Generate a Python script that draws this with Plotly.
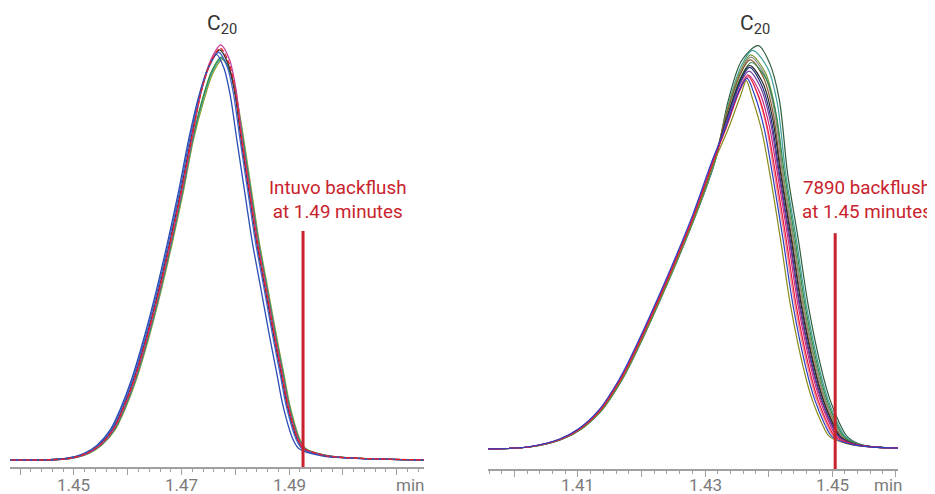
import plotly.graph_objects as go

# ---------------- DATA ----------------
# Left panel (Intuvo): intensity levels (relative, apex ~100) shared by the flanks
L_LEVELS_RISE = [0, 0.3, 1.6, 3.6, 7.4, 12.3, 19.5, 29.5, 41.0, 53.3, 65.4, 77.5]
L_LEVELS_FALL = [77.5, 65.4, 53.3, 41.2, 29.1, 21.1, 13.0, 4.8, 2.8, 1.0, 0.4, 0]

# per-run retention times (min) and apex-region intensities
L_BLUE1_T = [1.4370, 1.4481, 1.4519, 1.4543, 1.4568, 1.4586, 1.4607, 1.4630, 1.4653, 1.4675, 1.4695, 1.4713, 1.4732, 1.4749,
             1.4765,
             1.4779, 1.4791, 1.4803, 1.4817, 1.4831, 1.4848, 1.4865, 1.4877, 1.4889, 1.4908, 1.4918, 1.4961, 1.5023, 1.5160]
L_BLUE1_APEX = [88.1, 94.9, 98.3, 94.9, 88.1]

L_BLUE2_T = [1.4370, 1.4483, 1.4521, 1.4545, 1.4570, 1.4588, 1.4609, 1.4632, 1.4655, 1.4677, 1.4697, 1.4715, 1.4734, 1.4751,
             1.4769,
             1.4785, 1.4797, 1.4809, 1.4823, 1.4837, 1.4854, 1.4871, 1.4883, 1.4895, 1.4914, 1.4924, 1.4967, 1.5029, 1.5160]
L_BLUE2_APEX = [88.5, 95.3, 98.8, 95.3, 88.5]

L_BLACK_T = [1.4370, 1.4485, 1.4523, 1.4547, 1.4572, 1.4590, 1.4611, 1.4634, 1.4657, 1.4679, 1.4699, 1.4717, 1.4736, 1.4753,
             1.4771,
             1.4787, 1.4799, 1.4811, 1.4825, 1.4839, 1.4856, 1.4873, 1.4885, 1.4897, 1.4916, 1.4926, 1.4969, 1.5031, 1.5160]
L_BLACK_APEX = [89.1, 95.9, 99.4, 95.9, 89.1]

L_RED_T = [1.4370, 1.4486, 1.4524, 1.4548, 1.4573, 1.4591, 1.4612, 1.4635, 1.4658, 1.4680, 1.4700, 1.4718, 1.4737, 1.4754,
           1.4772,
           1.4788, 1.4800, 1.4812, 1.4826, 1.4840, 1.4857, 1.4874, 1.4886, 1.4898, 1.4917, 1.4927, 1.4970, 1.5032, 1.5160]
L_RED_APEX = [89.4, 96.3, 99.8, 96.3, 89.4]

L_MAGENTA_T = [1.4370, 1.4487, 1.4525, 1.4549, 1.4574, 1.4592, 1.4613, 1.4636, 1.4659, 1.4681, 1.4701, 1.4719, 1.4738, 1.4755,
               1.4773,
               1.4789, 1.4801, 1.4813, 1.4827, 1.4841, 1.4858, 1.4875, 1.4887, 1.4899, 1.4918, 1.4928, 1.4971, 1.5033, 1.5160]
L_MAGENTA_APEX = [90.1, 97.1, 100.6, 97.1, 90.1]

L_GREEN_T = [1.4370, 1.4488, 1.4526, 1.4550, 1.4575, 1.4593, 1.4614, 1.4637, 1.4660, 1.4682, 1.4702, 1.4720, 1.4739, 1.4756,
             1.4774,
             1.4790, 1.4802, 1.4814, 1.4828, 1.4842, 1.4859, 1.4876, 1.4888, 1.4900, 1.4919, 1.4929, 1.4972, 1.5034, 1.5160]
L_GREEN_APEX = [87.5, 94.2, 97.6, 94.2, 87.5]

L_TEAL_T = [1.4370, 1.4489, 1.4527, 1.4551, 1.4576, 1.4594, 1.4615, 1.4638, 1.4661, 1.4683, 1.4703, 1.4721, 1.4740, 1.4757,
            1.4775,
            1.4791, 1.4803, 1.4815, 1.4829, 1.4843, 1.4860, 1.4877, 1.4889, 1.4901, 1.4920, 1.4930, 1.4973, 1.5035, 1.5160]
L_TEAL_APEX = [87.2, 93.9, 97.3, 93.9, 87.2]

L_OLIVE_T = [1.4370, 1.4490, 1.4528, 1.4552, 1.4577, 1.4595, 1.4616, 1.4639, 1.4662, 1.4684, 1.4704, 1.4722, 1.4741, 1.4758,
             1.4776,
             1.4792, 1.4804, 1.4816, 1.4830, 1.4844, 1.4861, 1.4878, 1.4890, 1.4902, 1.4921, 1.4931, 1.4974, 1.5036, 1.5160]
L_OLIVE_APEX = [86.9, 93.6, 97.0, 93.6, 86.9]

L_BACKFLUSH = 1.4926
L_MAJOR_TICKS = [1.44, 1.45, 1.46, 1.47, 1.48, 1.49, 1.50, 1.51]
L_LABEL_TICKS = [1.45, 1.47, 1.49]
L_LABEL_TEXT = ["1.45", "1.47", "1.49"]

# Right panel (7890)
R_LEVELS_RISE = [0, 0.6, 2.6, 5.4, 10.4, 18.3, 23.4, 40.6, 62.0, 76.6]
R_LEVELS_FALL = [73.3, 55.6, 37.8, 20.1, 13.0, 6.8, 3.3, 1.1, 0.2]

R_OLIVE_T = [1.3950, 1.4026, 1.4074, 1.4105, 1.4137, 1.4168, 1.4184, 1.4231, 1.4284, 1.4315, 1.4336, 1.4357,
             1.4365,
             1.4374, 1.4389, 1.4402, 1.4419, 1.4435, 1.4457, 1.4469, 1.4484, 1.4496, 1.4532, 1.4615]
R_OLIVE_APEX = [84.9, 94.5, 98.0, 93.6, 84.9]

R_BLUE_T = [1.3950, 1.4022, 1.4070, 1.4101, 1.4133, 1.4164, 1.4180, 1.4227, 1.4280, 1.4311, 1.4332, 1.4353,
            1.4366,
            1.4378, 1.4393, 1.4406, 1.4423, 1.4439, 1.4461, 1.4473, 1.4488, 1.4500, 1.4534, 1.4615]
R_BLUE_APEX = [85.4, 95.1, 98.6, 94.2, 85.4]

R_PINK_T = [1.3950, 1.4024, 1.4072, 1.4103, 1.4135, 1.4166, 1.4182, 1.4229, 1.4282, 1.4313, 1.4334, 1.4355,
            1.4367,
            1.4381, 1.4396, 1.4409, 1.4426, 1.4442, 1.4464, 1.4476, 1.4491, 1.4503, 1.4536, 1.4615]
R_PINK_APEX = [86.3, 96.0, 99.6, 95.1, 86.3]

R_RED_T = [1.3950, 1.4024, 1.4072, 1.4103, 1.4135, 1.4166, 1.4182, 1.4229, 1.4282, 1.4313, 1.4334, 1.4355,
           1.4368,
           1.4383, 1.4398, 1.4411, 1.4428, 1.4444, 1.4466, 1.4478, 1.4493, 1.4505, 1.4537, 1.4615]
R_RED_APEX = [85.7, 95.4, 99.0, 94.5, 85.7]

R_MAGENTA_T = [1.3950, 1.4024, 1.4072, 1.4103, 1.4135, 1.4166, 1.4182, 1.4229, 1.4282, 1.4313, 1.4334, 1.4355,
               1.4368,
               1.4386, 1.4401, 1.4414, 1.4431, 1.4447, 1.4469, 1.4481, 1.4496, 1.4508, 1.4539, 1.4615]
R_MAGENTA_APEX = [86.1, 95.8, 99.4, 94.9, 86.1]

R_PURPLE_T = [1.3950, 1.4024, 1.4072, 1.4103, 1.4135, 1.4166, 1.4182, 1.4229, 1.4282, 1.4313, 1.4334, 1.4355,
              1.4369,
              1.4388, 1.4403, 1.4416, 1.4433, 1.4449, 1.4471, 1.4483, 1.4498, 1.4510, 1.4539, 1.4615]
R_PURPLE_APEX = [87.0, 96.9, 100.5, 96.0, 87.0]

R_NAVY_T = [1.3950, 1.4025, 1.4073, 1.4104, 1.4136, 1.4167, 1.4183, 1.4230, 1.4283, 1.4314, 1.4335, 1.4356,
            1.4370,
            1.4389, 1.4404, 1.4417, 1.4434, 1.4450, 1.4472, 1.4484, 1.4499, 1.4511, 1.4540, 1.4615]
R_NAVY_APEX = [87.9, 97.8, 101.5, 96.9, 87.9]

R_BLACK_T = [1.3950, 1.4025, 1.4073, 1.4104, 1.4136, 1.4167, 1.4183, 1.4230, 1.4283, 1.4314, 1.4335, 1.4356,
             1.4370,
             1.4391, 1.4406, 1.4419, 1.4436, 1.4452, 1.4474, 1.4486, 1.4501, 1.4513, 1.4541, 1.4615]
R_BLACK_APEX = [88.3, 98.3, 102.0, 97.4, 88.3]

R_BROWN_T = [1.3950, 1.4025, 1.4073, 1.4104, 1.4136, 1.4167, 1.4183, 1.4230, 1.4283, 1.4314, 1.4335, 1.4356,
             1.4371,
             1.4392, 1.4407, 1.4420, 1.4437, 1.4453, 1.4475, 1.4487, 1.4502, 1.4514, 1.4542, 1.4615]
R_BROWN_APEX = [89.6, 99.8, 103.5, 98.8, 89.6]

R_GRAY_T = [1.3950, 1.4026, 1.4074, 1.4105, 1.4137, 1.4168, 1.4184, 1.4231, 1.4284, 1.4315, 1.4336, 1.4357,
            1.4372,
            1.4394, 1.4409, 1.4422, 1.4439, 1.4455, 1.4477, 1.4489, 1.4504, 1.4516, 1.4543, 1.4615]
R_GRAY_APEX = [90.2, 100.4, 104.2, 99.5, 90.2]

R_OLIVEGREEN_T = [1.3950, 1.4026, 1.4074, 1.4105, 1.4137, 1.4168, 1.4184, 1.4231, 1.4284, 1.4315, 1.4336, 1.4357,
                  1.4372,
                  1.4395, 1.4410, 1.4423, 1.4440, 1.4456, 1.4478, 1.4490, 1.4505, 1.4517, 1.4543, 1.4615]
R_OLIVEGREEN_APEX = [90.8, 101.0, 104.8, 100.1, 90.8]

R_GREEN_T = [1.3950, 1.4026, 1.4074, 1.4105, 1.4137, 1.4168, 1.4184, 1.4231, 1.4284, 1.4315, 1.4336, 1.4357,
             1.4373,
             1.4397, 1.4412, 1.4425, 1.4442, 1.4458, 1.4480, 1.4492, 1.4507, 1.4519, 1.4544, 1.4615]
R_GREEN_APEX = [89.0, 99.1, 102.8, 98.2, 89.0]

R_TEAL_T = [1.3950, 1.4027, 1.4075, 1.4106, 1.4138, 1.4169, 1.4185, 1.4232, 1.4285, 1.4316, 1.4337, 1.4358,
            1.4375,
            1.4399, 1.4414, 1.4427, 1.4444, 1.4460, 1.4482, 1.4494, 1.4509, 1.4521, 1.4545, 1.4615]
R_TEAL_APEX = [91.8, 102.2, 106.0, 101.2, 91.8]

R_DKGREEN_T = [1.3950, 1.4027, 1.4075, 1.4106, 1.4138, 1.4169, 1.4185, 1.4232, 1.4285, 1.4316, 1.4337, 1.4358,
               1.4384,
               1.4402, 1.4417, 1.4430, 1.4447, 1.4463, 1.4485, 1.4497, 1.4512, 1.4524, 1.4547, 1.4615]
R_DKGREEN_APEX = [92.9, 103.4, 107.3, 102.5, 92.9]

R_BACKFLUSH = 1.4505
R_MAJOR_TICKS = [1.40, 1.41, 1.42, 1.43, 1.44, 1.45, 1.46]
R_LABEL_TICKS = [1.41, 1.43, 1.45]
R_LABEL_TEXT = ["1.41", "1.43", "1.45"]

# ---------------- STYLE ----------------
RED = "#c8232c"
AXIS_GRAY = "#a0a0a0"
TICK_FONT = dict(family="Roboto", size=17, color="#7b7b7b")

left_runs = [
    (L_OLIVE_T, L_OLIVE_APEX, "#a3a321", None),
    (L_TEAL_T, L_TEAL_APEX, "#3e9ea4", None),
    (L_GREEN_T, L_GREEN_APEX, "#2f8c3c", None),
    (L_BLACK_T, L_BLACK_APEX, "#303030", None),
    (L_MAGENTA_T, L_MAGENTA_APEX, "#c43f9e", None),
    (L_BLUE2_T, L_BLUE2_APEX, "#4262c8", None),
    (L_BLUE1_T, L_BLUE1_APEX, "#2a4db5", None),
    (L_RED_T, L_RED_APEX, "#e8202a", "5px,2px"),
]

right_runs = [
    (R_DKGREEN_T, R_DKGREEN_APEX, "#2e5d3c"),
    (R_TEAL_T, R_TEAL_APEX, "#3f9d9d"),
    (R_OLIVEGREEN_T, R_OLIVEGREEN_APEX, "#7d9a3c"),
    (R_GRAY_T, R_GRAY_APEX, "#8a8a8a"),
    (R_BROWN_T, R_BROWN_APEX, "#8b5a2b"),
    (R_GREEN_T, R_GREEN_APEX, "#2f8a4f"),
    (R_BLACK_T, R_BLACK_APEX, "#262626"),
    (R_NAVY_T, R_NAVY_APEX, "#1f2f7a"),
    (R_PURPLE_T, R_PURPLE_APEX, "#6b3fa0"),
    (R_PINK_T, R_PINK_APEX, "#f28a8a"),
    (R_OLIVE_T, R_OLIVE_APEX, "#8a8a1a"),
    (R_MAGENTA_T, R_MAGENTA_APEX, "#c2257e"),
    (R_RED_T, R_RED_APEX, "#e8163c"),
    (R_BLUE_T, R_BLUE_APEX, "#2a3fc4"),
]

fig = go.Figure()

for t, apex, color, dash in left_runs:
    fig.add_trace(go.Scatter(
        x=t, y=L_LEVELS_RISE + apex + L_LEVELS_FALL, mode="lines",
        line=dict(color=color, width=1.3, shape="spline", smoothing=0.8, dash=dash),
        xaxis="x", yaxis="y", hoverinfo="skip", showlegend=False))

for t, apex, color in right_runs:
    fig.add_trace(go.Scatter(
        x=t, y=R_LEVELS_RISE + apex + R_LEVELS_FALL, mode="lines",
        line=dict(color=color, width=1.2, shape="spline", smoothing=0.9),
        xaxis="x2", yaxis="y2", hoverinfo="skip", showlegend=False))

# The page body has an 8px margin, so the figure is 8px smaller than the window
W, H = 927, 486
M_T, M_B = 2, 25
plot_h = H - M_T - M_B  # 459
LABEL_Y = -16.2 / plot_h

common_x = dict(
    showline=True, linecolor=AXIS_GRAY, linewidth=2,
    ticks="outside", ticklen=6, tickwidth=1, tickcolor=AXIS_GRAY,
    showticklabels=False, showgrid=False, zeroline=False, automargin=False,
    fixedrange=True, tickmode="array",
)

fig.update_layout(
    width=W, height=H,
    margin=dict(l=0, r=0, t=M_T, b=M_B),
    paper_bgcolor="white", plot_bgcolor="white",
    showlegend=False,
    xaxis=dict(domain=[2 / W, 416 / W], anchor="y", range=[1.4381, 1.5151],
               tickvals=L_MAJOR_TICKS,
               minor=dict(dtick=0.002, tick0=1.44, ticks="outside", ticklen=3,
                          tickcolor=AXIS_GRAY, tickwidth=1, showgrid=False),
               **common_x),
    yaxis=dict(domain=[2 / plot_h, 1], range=[-1.70, 109.04], visible=False, fixedrange=True),
    xaxis2=dict(domain=[480 / W, 890 / W], anchor="y2", range=[1.39583, 1.46039],
                tickvals=R_MAJOR_TICKS,
                minor=dict(dtick=0.002, tick0=1.40, ticks="outside", ticklen=3,
                           tickcolor=AXIS_GRAY, tickwidth=1, showgrid=False),
                **common_x),
    yaxis2=dict(domain=[0, 1], range=[-5.32, 116.76], visible=False, fixedrange=True),
)

# tick labels
for v, s in zip(L_LABEL_TICKS, L_LABEL_TEXT):
    fig.add_annotation(x=v, y=LABEL_Y, xref="x", yref="paper", text=s, showarrow=False,
                       font=TICK_FONT, yanchor="middle")
for v, s in zip(R_LABEL_TICKS, R_LABEL_TEXT):
    fig.add_annotation(x=v, y=LABEL_Y, xref="x2", yref="paper", text=s, showarrow=False,
                       font=TICK_FONT, yanchor="middle")

# backflush markers
fig.add_shape(type="line", xref="x", yref="y", x0=L_BACKFLUSH, x1=L_BACKFLUSH, y0=-1.70, y1=55.5,
              line=dict(color=RED, width=3), layer="above")
fig.add_shape(type="line", xref="x2", yref="y2", x0=R_BACKFLUSH, x1=R_BACKFLUSH, y0=-5.32, y1=57.4,
              line=dict(color=RED, width=3), layer="above")

ann_red = dict(family="Roboto", size=18.8, color=RED)
fig.add_annotation(x=1.49902, y=63.0, xref="x", yref="y", text="Intuvo backflush<br>at 1.49 minutes",
                   showarrow=False, font=ann_red, align="center")
fig.add_annotation(x=1.45551, y=66.2, xref="x2", yref="y2", text="7890 backflush<br>at 1.45 minutes",
                   showarrow=False, font=ann_red, align="center")

peak_font = dict(family="Roboto", size=21, color="#333333")
fig.add_annotation(x=1.47744, y=105.6, xref="x", yref="y", text="C<sub>20</sub>",
                   showarrow=False, font=peak_font)
fig.add_annotation(x=1.43787, y=113.0, xref="x2", yref="y2", text="C<sub>20</sub>",
                   showarrow=False, font=peak_font)

# axis unit labels
fig.add_annotation(x=1.51251, y=LABEL_Y, xref="x", yref="paper", text="min",
                   showarrow=False, font=TICK_FONT, yanchor="middle")
fig.add_annotation(x=1.45887, y=LABEL_Y, xref="x2", yref="paper", text="min",
                   showarrow=False, font=TICK_FONT, yanchor="middle")

fig.write_html("out.html")
